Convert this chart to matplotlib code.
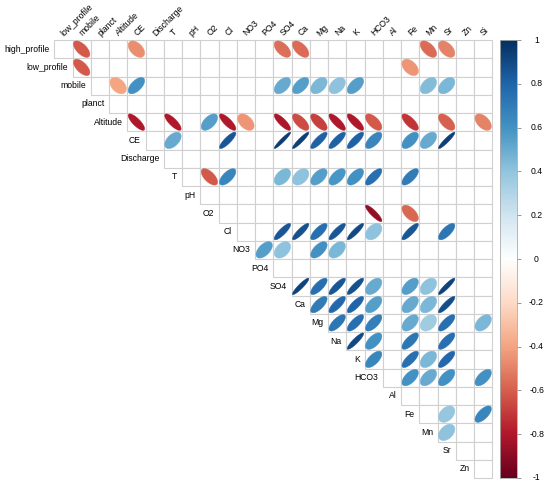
import numpy as np
import matplotlib
matplotlib.use("Agg")
import matplotlib.pyplot as plt
from matplotlib.colors import LinearSegmentedColormap
from matplotlib.patches import Polygon, Rectangle

plt.rcParams['font.family'] = ['Liberation Sans', 'DejaVu Sans']

variables = ["high_profile", "low_profile", "mobile", "planct", "Altitude", "CE",
             "Discharge", "T", "pH", "O2", "Cl", "NO3", "PO4", "SO4", "Ca", "Mg",
             "Na", "K", "HCO3", "Al", "Fe", "Mn", "Sr", "Zn", "Si"]

# significant correlations per row (blank cells are omitted)
high_profile = {"mobile": -0.62, "CE": -0.47, "SO4": -0.55, "Ca": -0.57, "Mn": -0.57, "Sr": -0.5}
low_profile = {"mobile": -0.62, "Fe": -0.45}
mobile = {"Altitude": -0.4, "CE": 0.6, "SO4": 0.5, "Ca": 0.55, "Mg": 0.45, "Na": 0.4,
          "K": 0.55, "Mn": 0.43, "Sr": 0.45}
planct = {}
Altitude = {"CE": -0.8, "T": -0.8, "O2": 0.55, "Cl": -0.8, "NO3": -0.45, "SO4": -0.82,
            "Ca": -0.66, "Mg": -0.68, "Na": -0.8, "K": -0.8, "HCO3": -0.62, "Fe": -0.72,
            "Sr": -0.6, "Si": -0.5}
CE = {"T": 0.5, "Cl": 0.85, "SO4": 0.95, "Ca": 0.93, "Mg": 0.82, "Na": 0.82, "K": 0.82,
      "HCO3": 0.65, "Fe": 0.6, "Mn": 0.5, "Sr": 0.93}
Discharge = {}
T = {"O2": -0.62, "Cl": 0.65, "SO4": 0.45, "Ca": 0.4, "Mg": 0.55, "Na": 0.58, "K": 0.6,
     "HCO3": 0.75, "Fe": 0.7}
pH = {}
O2 = {"HCO3": -0.88, "Fe": -0.58}
Cl = {"SO4": 0.85, "Ca": 0.87, "Mg": 0.75, "Na": 0.85, "K": 0.9, "HCO3": 0.4, "Fe": 0.85,
      "Sr": 0.72}
NO3 = {"PO4": 0.55, "SO4": 0.4, "Mg": 0.6, "Na": 0.45}
PO4 = {}
SO4 = {"Ca": 0.92, "Mg": 0.75, "Na": 0.85, "K": 0.87, "HCO3": 0.5, "Fe": 0.55, "Mn": 0.4,
       "Sr": 0.92}
Ca = {"Mg": 0.7, "Na": 0.78, "K": 0.8, "HCO3": 0.55, "Fe": 0.5, "Mn": 0.45, "Sr": 0.88}
Mg = {"Na": 0.72, "K": 0.75, "HCO3": 0.68, "Fe": 0.5, "Mn": 0.35, "Sr": 0.75, "Si": 0.45}
Na = {"K": 0.9, "HCO3": 0.6, "Fe": 0.72, "Sr": 0.75}
K = {"HCO3": 0.65, "Fe": 0.75, "Mn": 0.45, "Sr": 0.78}
HCO3 = {"Fe": 0.6, "Mn": 0.5, "Sr": 0.6, "Si": 0.6}
Al = {}
Fe = {"Sr": 0.38, "Si": 0.65}
Mn = {"Sr": 0.4}
Sr = {}
Zn = {}

row_data = [high_profile, low_profile, mobile, planct, Altitude, CE, Discharge, T, pH, O2,
            Cl, NO3, PO4, SO4, Ca, Mg, Na, K, HCO3, Al, Fe, Mn, Sr, Zn]

cbar_ticks = [-1, -0.8, -0.6, -0.4, -0.2, 0, 0.2, 0.4, 0.6, 0.8, 1]

rdbu = ["#67001F", "#B2182B", "#D6604D", "#F4A582", "#FDDBC7", "#FFFFFF",
        "#D1E5F0", "#92C5DE", "#4393C3", "#2166AC", "#053061"]
cmap = LinearSegmentedColormap.from_list("corr", rdbu, N=200)

W, H = 550, 491
fig = plt.figure(figsize=(W / 100, H / 100), dpi=100)

# geometry (pixels)
x0, y0, cell = 54.3, 40.0, 18.25
ncol = len(variables) - 1

ax = fig.add_axes([0, 0, 1, 1])
ax.set_xlim(-x0 / cell, (W - x0) / cell)
ax.set_ylim((H - y0) / cell, -y0 / cell)
ax.axis("off")

grid_col = "#d0d0d0"
t = np.linspace(0, 2 * np.pi, 99)
for r in range(ncol):
    for c in range(r, ncol):
        ax.add_patch(Rectangle((c, r), 1, 1, facecolor="white", edgecolor=grid_col,
                               linewidth=0.8, zorder=1))
for r, rowvals in enumerate(row_data):
    for name, rho in rowvals.items():
        c = variables.index(name) - 1
        a = np.arccos(rho)
        ex = 0.45 * np.cos(t + a / 2)
        ey = 0.45 * np.cos(t - a / 2)
        pts = np.column_stack([c + 0.5 + ex, r + 0.5 - ey])
        col = cmap((rho + 1) / 2)
        ax.add_patch(Polygon(pts, closed=True, facecolor=col, edgecolor=col,
                             linewidth=0.3, zorder=2))

fs = 6.2
# row labels
for r in range(ncol):
    ax.text(r - 0.25, r + 0.5, variables[r], ha="right", va="center", fontsize=fs,
            color="black")
# column labels
for c in range(ncol):
    ax.text(c + 0.62, -0.12, variables[c + 1], ha="left", va="bottom", fontsize=fs,
            rotation=45, rotation_mode="anchor", color="black")

# colorbar
cax = fig.add_axes([500 / W, 1 - 478 / H, 17 / W, 438 / H])
grad = np.linspace(-1, 1, 400).reshape(-1, 1)
cax.imshow(grad, aspect="auto", cmap=cmap, origin="lower", extent=[0, 1, -1, 1],
           vmin=-1, vmax=1)
cax.set_xlim(0, 1)
cax.set_ylim(-1, 1)
cax.set_xticks([])
cax.yaxis.tick_right()
cax.set_yticks(cbar_ticks)
cax.set_yticklabels([])
cax.tick_params(axis="y", length=3, width=0.6, color="#888888")
for sp in cax.spines.values():
    sp.set_color("#aaaaaa")
    sp.set_linewidth(0.6)
for v in cbar_ticks:
    lab = "%g" % v
    cax.text(2.15, v, lab, ha="center", va="center", fontsize=fs,
             transform=cax.get_yaxis_transform())

fig.savefig("out.png", dpi=100)
